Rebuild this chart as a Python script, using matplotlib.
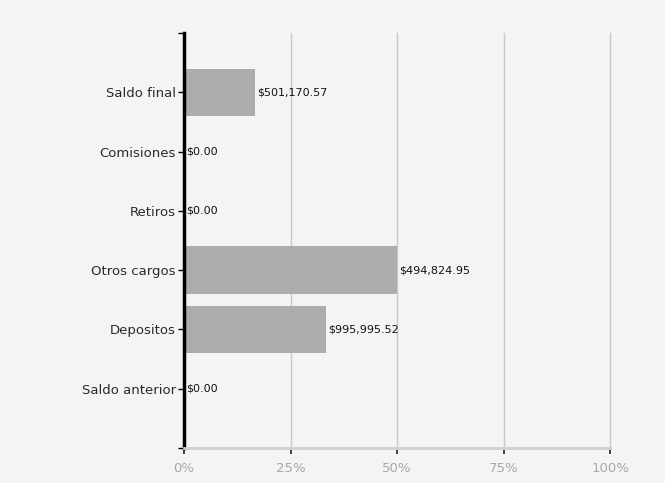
import matplotlib
matplotlib.use("Agg")
import matplotlib.pyplot as plt
from matplotlib.ticker import FixedLocator

# Data (bottom to top)
categories = ["Saldo anterior", "Depositos", "Otros cargos", "Retiros", "Comisiones", "Saldo final"]
percent = [0.0, 33.3, 50.0, 0.0, 0.0, 16.7]
value_labels = ["$0.00", "$995,995.52", "$494,824.95", "$0.00", "$0.00", "$501,170.57"]
x_ticks = [0, 25, 50, 75, 100]
x_tick_labels = ["0%", "25%", "50%", "75%", "100%"]

bg = "#f4f4f4"
fig = plt.figure(figsize=(6.65, 4.83), dpi=100, facecolor=bg)
ax = fig.add_axes([0.2767, 0.0725, 0.6406, 0.8592])
ax.set_facecolor(bg)

y = list(range(len(categories)))
ax.barh(y, percent, height=0.8, color="#acacac", zorder=2)

for yi, p, lab in zip(y, percent, value_labels):
    ax.text(p + 0.5, yi, lab, va="center", ha="left", fontsize=8,
            color="#111111", zorder=3)

ax.set_xlim(0, 100)
ax.set_ylim(-1, 6)
ax.set_xticks(x_ticks)
ax.set_xticklabels(x_tick_labels, color="#a8a8a8", fontsize=9.5)
ax.set_yticks(y)
ax.set_yticklabels(categories, fontsize=9.5, color="#2a2a2a")
ax.yaxis.set_minor_locator(FixedLocator([-1, 6]))

ax.grid(axis="x", color="#c8c8c8", linewidth=1.0, zorder=0)
for gl in ax.get_xgridlines():
    gl.set_clip_on(False)
ax.set_axisbelow(True)

for s in ["top", "right"]:
    ax.spines[s].set_visible(False)
ax.spines["left"].set_color("black")
ax.spines["left"].set_linewidth(2.5)
ax.spines["bottom"].set_color("#d0d0d0")
ax.spines["bottom"].set_linewidth(2)

ax.tick_params(axis="y", which="both", length=4, width=1, color="black", pad=2)
ax.tick_params(axis="x", length=4, width=1.2, color="#222222", pad=6)

plt.savefig("out.png", dpi=100, facecolor=bg)
